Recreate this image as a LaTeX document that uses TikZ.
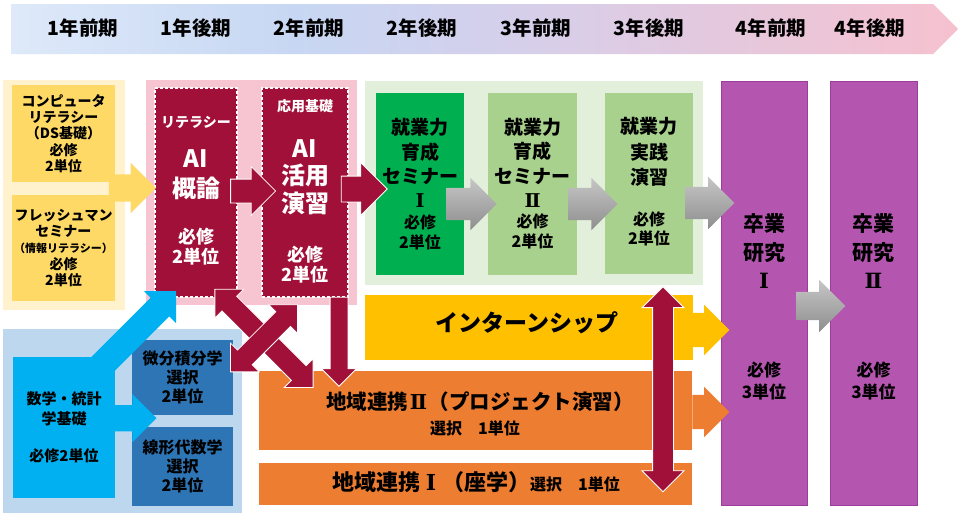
\documentclass[tikz,border=0pt]{standalone}
\usepackage{fontspec}
\setmainfont{Noto Sans CJK JP}
\newfontfamily\numeral{DejaVu Serif}
\usetikzlibrary{shapes.arrows,positioning,calc}
\definecolor{crimson}{HTML}{A11038}
\definecolor{pinkbg}{HTML}{F7C4D2}
\definecolor{goldbg}{HTML}{FFF2CC}
\definecolor{gold}{HTML}{FFD966}
\definecolor{greenbg}{HTML}{E2EFDA}
\definecolor{semgreen}{HTML}{00B050}
\definecolor{leafgreen}{HTML}{A9D18E}
\definecolor{thesis}{HTML}{B455B0}
\definecolor{thesisline}{HTML}{9B3E9B}
\definecolor{intern}{HTML}{FFC000}
\definecolor{region}{HTML}{ED7D31}
\definecolor{bluebg}{HTML}{BDD7EE}
\definecolor{mathcyan}{HTML}{00B0F0}
\definecolor{mathblue}{HTML}{2E75B6}
\definecolor{grayhi}{HTML}{C6C6C6}
\definecolor{graylo}{HTML}{8E8E8E}
\definecolor{hdleft}{HTML}{DEE9F9}
\definecolor{hdmid}{HTML}{C7D7F3}
\definecolor{hdlav}{HTML}{D3D0EC}
\definecolor{hdright}{HTML}{F6C1CF}
\pgfdeclarehorizontalshading{yearband}{100bp}{color(0bp)=(hdleft); color(25bp)=(hdleft); color(40bp)=(hdmid); color(50bp)=(hdlav); color(75bp)=(hdright); color(100bp)=(hdright)}
\newcommand\jf[2]{\fontsize{#1}{#2}\selectfont\bfseries}
\newcommand\rn[1]{\makebox[1em]{\numeral\bfseries #1}}
\tikzset{
  panel/.style={rectangle,inner sep=0pt},
  course/.style={rectangle,inner sep=0pt,align=center},
  aibox/.style={rectangle,inner sep=0pt,fill=crimson,draw=white,line width=1.6pt,dash pattern=on 3pt off 2pt},
  txt/.style={align=center,inner sep=0pt},
  blk/.style={single arrow,inner xsep=0pt,single arrow head extend=#1,anchor=tip},
  dblk/.style={double arrow,inner xsep=0pt,double arrow head extend=#1},
  wine/.style={fill=crimson,draw=white,line width=0.8pt},
  steel/.style={top color=grayhi,bottom color=graylo}
}

\begin{document}
\begin{tikzpicture}[x=1pt,y=-1pt]
  \useasboundingbox (0,0) rectangle (960,520);
  % year band
  \shade[shading=yearband] (11,4) -- (933,4) -- (958,29) -- (933,54) -- (11,54) -- cycle;
  \foreach \yr/\xx [count=\i] in {1年前期/83,1年後期/196,2年前期/309,2年後期/422,3年前期/536,3年後期/649,4年前期/771,4年後期/870}
    \node[txt,font=\jf{19.5}{22}] (term\i) at (\xx,28) {\yr};

  % panels
  \node[panel,fill=goldbg,minimum width=122,minimum height=230] (litpanel) at (64,195) {};
  \node[panel,fill=pinkbg,minimum width=211,minimum height=225] (aipanel) at (251.5,192.5) {};
  \node[panel,fill=greenbg,minimum width=338,minimum height=204] (jobpanel) at (534,183) {};
  \node[panel,fill=bluebg,minimum width=239,minimum height=184] (mathpanel) at (122.5,421) {};

  % courses
  \node[course,fill=gold,minimum width=103,minimum height=97,font=\jf{14}{16.3}] (complit) at (63.5,133.5)
    {コンピュータ\\リテラシー\\（DS基礎）\\必修\\2単位};
  \node[course,fill=gold,minimum width=103,minimum height=106,font=\jf{14}{16.3}] (fresh) at (63.5,248)
    {フレッシュマン\\セミナー\\{\jf{11}{16.3}（情報リテラシー）}\\必修\\2単位};
  \node[aibox,minimum width=82,minimum height=209] (ai1) at (196,192.5) {};
  \node[aibox,minimum width=86,minimum height=209] (ai2) at (305,192.5) {};
  \node[course,fill=semgreen,minimum width=88,minimum height=182] (sem1) at (420,184) {};
  \node[course,fill=leafgreen,minimum width=89,minimum height=182] (sem2) at (532.5,184) {};
  \node[course,fill=leafgreen,minimum width=88,minimum height=181] (prac) at (649,183.5) {};
  \node[course,fill=thesis,draw=thesisline,line width=0.8pt,minimum width=86,minimum height=424] (thesis1) at (764,293) {};
  \node[course,fill=thesis,draw=thesisline,line width=0.8pt,minimum width=87,minimum height=424] (thesis2) at (873.5,293) {};
  \node[course,fill=intern,minimum width=328,minimum height=65] (intern) at (529,327.5) {};
  \node[course,fill=region,minimum width=433,minimum height=79] (region2) at (475.5,410.5) {};
  \node[course,fill=region,minimum width=433,minimum height=42] (region1) at (475.5,484) {};
  \node[course,fill=mathcyan,minimum width=102,minimum height=141,font=\jf{15}{20}] (mathbase) at (64,427.5)
    {数学・統計\\学基礎\\[17pt]必修2単位};
  \node[course,fill=mathblue,minimum width=101,minimum height=75,font=\jf{16}{19}] (calculus) at (182.5,377.5)
    {微分積分学\\選択\\2単位};
  \node[course,fill=mathblue,minimum width=101,minimum height=79,font=\jf{16}{19}] (linalg) at (182.5,466.5)
    {線形代数学\\選択\\2単位};

  % texts in the boxes
  \node[txt,text=white,font=\jf{14}{16}] (ai1tag) at ($(ai1.north)+(0,35)$) {リテラシー};
  \node[txt,text=white,font=\jf{24}{30}] (ai1name) at ($(ai1.north)+(0,87)$) {AI\\概論};
  \node[txt,text=white,font=\jf{18}{20}] (ai1cr) at ($(ai1.north)+(0,159)$) {必修\\2単位};
  \node[txt,text=white,font=\jf{14}{16}] (ai2tag) at ($(ai2.north)+(0,19)$) {応用基礎};
  \node[txt,text=white,font=\jf{24}{27.5}] (ai2name) at ($(ai2.north)+(0,90)$) {AI\\活用\\演習};
  \node[txt,text=white,font=\jf{18}{20}] (ai2cr) at ($(ai2.north)+(0,177)$) {必修\\2単位};
  \node[txt,font=\jf{19}{24.3}] (sem1name) at ($(sem1.north)+(0,70.5)$) {就業力\\育成\\セミナー\\\rn{Ⅰ}};
  \node[txt,font=\jf{16}{20}] (sem1cr) at ($(sem1.north)+(0,140)$) {必修\\2単位};
  \node[txt,font=\jf{19}{24.3}] (sem2name) at ($(sem2.north)+(0,70)$) {就業力\\育成\\セミナー\\\rn{Ⅱ}};
  \node[txt,font=\jf{16}{20}] (sem2cr) at ($(sem2.north)+(0,139)$) {必修\\2単位};
  \node[txt,font=\jf{19}{25.5}] (pracname) at ($(prac.north)+(0,59.5)$) {就業力\\実践\\演習};
  \node[txt,font=\jf{16}{19}] (praccr) at ($(prac.north)+(0,136)$) {必修\\2単位};
  \node[txt,font=\jf{21}{28.5}] (thesis1name) at ($(thesis1.north)+(0,170.5)$) {卒業\\研究\\\rn{Ⅰ}};
  \node[txt,font=\jf{17}{22}] (thesis1cr) at ($(thesis1.north)+(0,300)$) {必修\\3単位};
  \node[txt,font=\jf{21}{28.5}] (thesis2name) at ($(thesis2.north)+(0,170.5)$) {卒業\\研究\\\rn{Ⅱ}};
  \node[txt,font=\jf{17}{22}] (thesis2cr) at ($(thesis2.north)+(0,300)$) {必修\\3単位};
  \node[txt,font=\jf{23}{26}] (interntxt) at ($(intern.center)+(-2,-4.5)$) {インターンシップ};
  \node[txt,font=\jf{20.5}{24}] (region2name) at ($(region2.center)+(4.5,-8.5)$) {地域連携\rn{Ⅱ}（プロジェクト演習）};
  \node[txt,font=\jf{16}{20}] (region2cr) at ($(region2.center)+(-0.5,17.5)$) {選択\quad 1単位};
  \node[txt,font=\jf{16}{20}] (region1txt) at ($(region1.center)+(0.5,-2)$) {{\jf{22}{26}地域連携\rn{Ⅰ}（座学）}選択\quad 1単位};

  % block arrows
  \node[blk=11.5,fill=gold,inner ysep=13.5,minimum width=50,minimum height=47] (litarrow) at ($(ai1.west)+(2,-4.5)$) {};
  \node[blk=12.5,wine,inner ysep=11.5,minimum width=48,minimum height=45] (aiarrow) at ($(ai2.west)+(15,-1.5)$) {};
  \node[blk=13.5,wine,inner ysep=12.5,minimum width=52,minimum height=46] (semarrow) at ($(sem1.west)+(12,5)$) {};
  \node[blk=10,steel,inner ysep=16,minimum width=52,minimum height=50] (gray1) at ($(sem2.west)+(9,20)$) {};
  \node[blk=10,steel,inner ysep=16,minimum width=52,minimum height=49] (gray2) at ($(prac.west)+(13,20.5)$) {};
  \node[blk=10,steel,inner ysep=16,minimum width=52,minimum height=49] (gray3) at ($(thesis1.west)+(14,-90)$) {};
  \node[blk=12,steel,inner ysep=14,minimum width=52,minimum height=49] (gray4) at ($(thesis2.west)+(16,13)$) {};
  \node[blk=8,fill=intern,inner ysep=17,minimum width=50,minimum height=37] (internarrow) at ($(thesis1.west)+(9,37)$) {};
  \node[blk=8,fill=region,inner ysep=17,minimum width=50,minimum height=37] (regionarrow) at ($(thesis1.west)+(9,119)$) {};
  \node[blk=8.5,wine,inner ysep=8.5,rotate=-90,minimum width=34,minimum height=89] (downarrow) at ($(ai2.south)+(34,89)$) {};
  \node[dblk=10,wine,inner ysep=10,rotate=-45,minimum width=40,minimum height=139] (crossa) at ($(ai2.south)+(-41,40.5)$) {};
  \node[dblk=10,wine,inner ysep=10,rotate=45,minimum width=40,minimum height=95] (crossb) at ($(ai2.south)+(-41,40.5)$) {};
  \node[dblk=10.5,wine,inner ysep=10,rotate=90,minimum width=41,minimum height=205] (linkarrow) at ($(prac.south)+(14,115)$) {};
  \node[blk=9.5,fill=mathcyan,inner ysep=13,rotate=45,minimum width=45,minimum height=114.5] (mathup) at ($(ai1.south west)+(22,-7)$) {};
  \node[blk=11,fill=mathcyan,inner ysep=13,minimum width=48,minimum height=52] (mathright) at ($(calculus.south west)+(25,3)$) {};
\end{tikzpicture}
\end{document}
